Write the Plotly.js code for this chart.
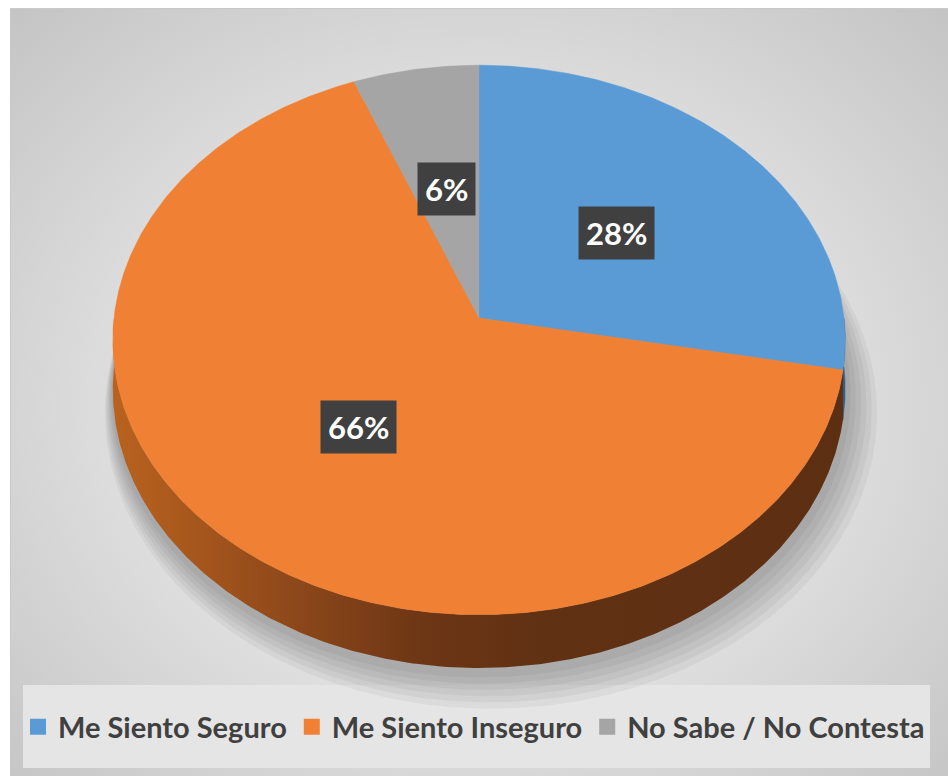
<!DOCTYPE html>
<html><head><meta charset="utf-8">
<script src="https://cdn.plot.ly/plotly-3.0.1.min.js"></script>
<style>
html,body{margin:0;padding:0;background:#fff;}
#wrap{position:relative;width:948px;height:776px;overflow:hidden;}
#bg{position:absolute;left:10px;top:8px;width:938px;height:768px;box-sizing:border-box;border-top:1px solid #c9c9c9;border-left:1px solid #c9c9c9;
background:radial-gradient(ellipse at 50% 52%, #f1f1f1 0%, #e6e6e6 40%, #c4c4c4 100%);}
#chart{position:absolute;left:0;top:0;width:948px;height:776px;}
</style></head><body>
<div id="wrap"><div id="bg"></div><div id="chart"></div></div>
<script>
// ---- data ----
const categories = ["Me Siento Seguro", "Me Siento Inseguro", "No Sabe / No Contesta"];
const values = [28, 66, 6];

// ---- styles ----
const topColors = ["#5b9bd5", "#f08033", "#a5a5a5"];
const sideColors = ["#2f5f8c", "#5e3013", "#6b6b6b"];
const orangeSideScale = [[0,'#b9621f'],[0.1,'#a8581d'],[0.28,'#874419'],[0.42,'#6d3615'],[0.58,'#613113'],[1,'#5d2f12']];

// ---- geometry of the tilted pie (pixel-like axes) ----
const CX = 479, CY = 318, RX = 365, RY = 273, K = 0.08, DEPTH = 49;
function P(theta, f, dz) {
  const t = theta * Math.PI / 180;
  const u = Math.sin(t) * f, v = -Math.cos(t) * f;
  const w = 1 / (1 - K * v);
  return [CX + RX * u * w, CY + RY * v * w + dz * w];
}
function arc(a0, a1, f, dz) {
  const pts = [];
  const n = Math.max(2, Math.ceil((a1 - a0) / 0.5));
  for (let i = 0; i <= n; i++) pts.push(P(a0 + (a1 - a0) * i / n, f, dz));
  return pts;
}

const total = values.reduce((a, b) => a + b, 0);
let acc = 0;
const slices = values.map(v => { const a0 = acc; acc += v / total * 360; return [a0, acc]; });

const traces = [];

// soft shadow under the pie
for (let i = 6; i >= 1; i--) {
  const pts = arc(0, 360, 1 + i * 0.009, DEPTH + 3 + i * 3);
  traces.push({
    type: 'scatter', mode: 'lines', x: pts.map(p => p[0] + i * 2), y: pts.map(p => p[1]),
    fill: 'toself', fillcolor: 'rgba(0,0,0,0.045)', line: {width: 0, color: 'rgba(0,0,0,0)'},
    showlegend: false, hoverinfo: 'skip'
  });
}

// side walls (front half only)
slices.forEach(([a0, a1], i) => {
  const s = Math.max(a0, 90), e = Math.min(a1, 270);
  if (e <= s) return;
  const top = arc(s, e, 1, 0), bot = arc(s, e, 1, DEPTH).reverse();
  const pts = top.concat(bot);
  const tr = {
    type: 'scatter', mode: 'lines', x: pts.map(p => p[0]), y: pts.map(p => p[1]),
    fill: 'toself', fillcolor: sideColors[i], line: {width: 0.5, color: sideColors[i]},
    showlegend: false, hoverinfo: 'skip'
  };
  if (i === 1) {
    tr.fillgradient = {type: 'horizontal', start: CX - RX, stop: CX + RX, colorscale: orangeSideScale};
    tr.line = {width: 0, color: 'rgba(0,0,0,0)'};
  }
  traces.push(tr);
});

// top faces
slices.forEach(([a0, a1], i) => {
  const pts = [[CX, CY]].concat(arc(a0, a1, 1, 0)).concat([[CX, CY]]);
  traces.push({
    type: 'scatter', mode: 'lines', x: pts.map(p => p[0]), y: pts.map(p => p[1]),
    fill: 'toself', fillcolor: topColors[i], line: {width: 0.5, color: topColors[i]},
    name: categories[i], legendgroup: categories[i], showlegend: false, hoverinfo: 'skip'
  });
});

// legend entries
categories.forEach((c, i) => {
  traces.push({
    type: 'scatter', mode: 'markers', x: [null], y: [null], name: c, legendgroup: c,
    marker: {symbol: 'square', size: 18, color: topColors[i]}, showlegend: true, hoverinfo: 'skip'
  });
});

// percentage labels
const annotations = [];
slices.forEach(([a0, a1], i) => {
  const [x, y] = P((a0 + a1) / 2, 0.5, 0);
  annotations.push({
    x: x, y: y, xref: 'x', yref: 'y', text: values[i] + '%', showarrow: false,
    font: {family: 'Lato', size: 31, color: '#ffffff', weight: 700},
    bgcolor: '#404040', borderpad: 7
  });
});

const layout = {
  width: 948, height: 776,
  margin: {l: 0, r: 0, t: 0, b: 0},
  paper_bgcolor: 'rgba(0,0,0,0)', plot_bgcolor: 'rgba(0,0,0,0)',
  xaxis: {range: [0, 948], visible: false, fixedrange: true},
  yaxis: {range: [776, 0], visible: false, fixedrange: true},
  showlegend: true,
  legend: {
    orientation: 'h', x: 0.5, xanchor: 'center', y: 1 - 727 / 776, yanchor: 'middle',
    font: {family: 'Lato', size: 29, color: '#404040', weight: 700},
    bgcolor: 'rgba(0,0,0,0)', itemwidth: 30, traceorder: 'normal', itemclick: false, itemdoubleclick: false
  },
  shapes: [{
    type: 'rect', xref: 'x', yref: 'y', x0: 23, x1: 930, y0: 685, y1: 768,
    fillcolor: '#e5e5e5', line: {width: 0}, layer: 'below'
  }],
  annotations: annotations,
  hovermode: false
};

Plotly.newPlot('chart', traces, layout, {displayModeBar: false, staticPlot: true});
</script>
</body></html>
